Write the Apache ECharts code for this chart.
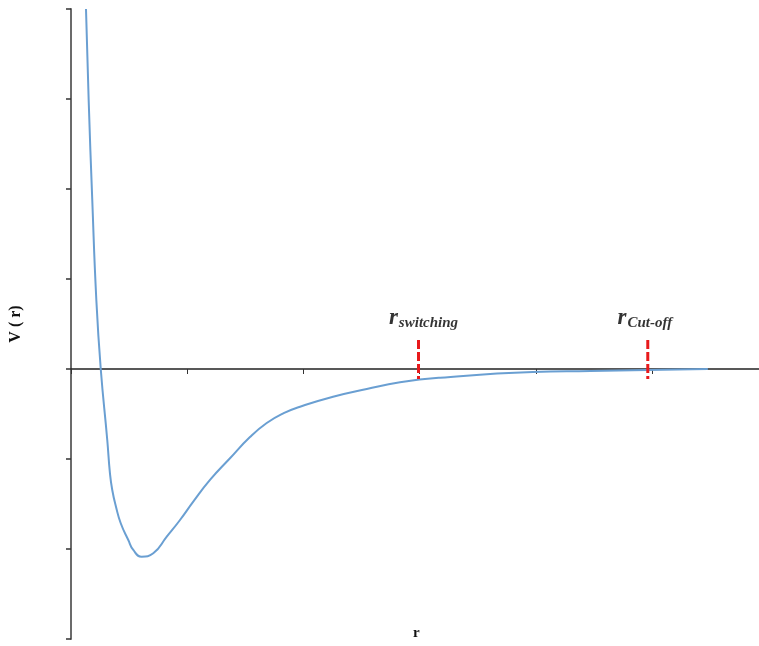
<!DOCTYPE html>
<html>
<head>
<meta charset="utf-8">
<script src="https://cdn.jsdelivr.net/npm/echarts@6/dist/echarts.min.js"></script>
<style>
html,body{margin:0;padding:0;background:#fff;}
#c{width:759px;height:646px;}
</style>
</head>
<body>
<div id="c"></div>
<script>
// Potential curve V(r) (arbitrary units)
var rValues = [0.129, 0.152, 0.183, 0.218, 0.256, 0.312, 0.335, 0.355, 0.387, 0.428, 0.493, 0.536, 0.608, 0.708, 0.824, 0.938, 1.052, 1.196, 1.368, 1.540, 1.684, 1.830, 1.971, 2.255, 2.545, 2.831, 3.176, 3.976, 4.47, 4.957, 5.48];
var vValues = [4.0, 2.989, 1.878, 0.767, 0.0, -0.789, -1.156, -1.344, -1.530, -1.714, -1.9, -2.011, -2.086, -2.048, -1.863, -1.678, -1.474, -1.233, -0.992, -0.756, -0.6, -0.49, -0.419, -0.308, -0.222, -0.148, -0.097, -0.033, -0.022, -0.011, 0.0];
// Marker positions
var markerNames = ['switching', 'Cut-off'];
var markerR = [2.99, 4.963];
var markerSpan = [0.322, -0.111];
var xTicks = { min: 0, max: 5.92, interval: 1 };
var yTicks = { min: -3, max: 4, interval: 1 };

var curve = rValues.map(function (r, i) { return [r, vValues[i]]; });

var rich = {
  r: { fontFamily: 'Liberation Serif', fontStyle: 'italic', fontWeight: 'bold', fontSize: 23, color: '#000' },
  s: { fontFamily: 'Liberation Serif', fontStyle: 'italic', fontWeight: 'bold', fontSize: 15, color: '#000', padding: [9, 0, 0, 1] }
};

function markerSeries(x) {
  return {
    type: 'line',
    data: [[x, markerSpan[0]], [x, markerSpan[1]]],
    symbol: 'none',
    lineStyle: { color: '#e8191b', width: 3, type: [9, 3] },
    silent: true,
    z: 3
  };
}

var labelSeries = {
  type: 'scatter',
  data: markerR.map(function (r, i) { return { value: [r, markerSpan[0]], name: markerNames[i] }; }),
  symbol: 'circle',
  symbolSize: 1,
  itemStyle: { color: 'rgba(0,0,0,0)' },
  silent: true,
  z: 4,
  label: {
    show: true,
    position: 'top',
    distance: 9,
    formatter: function (p) { return '{r|r}{s|' + p.name + '}'; },
    rich: rich
  },
  labelLayout: function (p) { return { dx: p.dataIndex === 0 ? 5 : -3 }; }
};

var chart = echarts.init(document.getElementById('c'));
chart.setOption({
  animation: false,
  backgroundColor: '#fff',
  grid: { left: 71, right: 0, top: 9, bottom: 7 },
  xAxis: {
    type: 'value',
    min: xTicks.min, max: xTicks.max, interval: xTicks.interval,
    axisLine: { onZero: true, lineStyle: { color: '#222', width: 1.5 } },
    axisTick: { show: true, length: 5, lineStyle: { color: '#333', width: 1 } },
    axisLabel: { show: false },
    splitLine: { show: false }
  },
  yAxis: {
    type: 'value',
    min: yTicks.min, max: yTicks.max, interval: yTicks.interval,
    name: 'V ( r)',
    nameLocation: 'middle',
    nameGap: 47,
    nameTextStyle: { fontFamily: 'Liberation Serif', fontWeight: 'bold', fontSize: 16, color: '#111' },
    axisLine: { show: true, lineStyle: { color: '#6b6b6b', width: 2 } },
    axisTick: { show: true, length: 5, lineStyle: { color: '#333', width: 1.5 } },
    axisLabel: { show: false },
    splitLine: { show: false }
  },
  graphic: [{
    type: 'text',
    left: 413, top: 626,
    style: { text: 'r', fontFamily: 'Liberation Serif', fontWeight: 'bold', fontSize: 15, fill: '#111' }
  }],
  series: [
    {
      type: 'line',
      data: curve,
      smooth: 0.5,
      symbol: 'none',
      lineStyle: { color: '#6a9fd2', width: 2 },
      z: 2
    },
    markerSeries(markerR[0]),
    markerSeries(markerR[1]),
    labelSeries
  ]
});
</script>
</body>
</html>
